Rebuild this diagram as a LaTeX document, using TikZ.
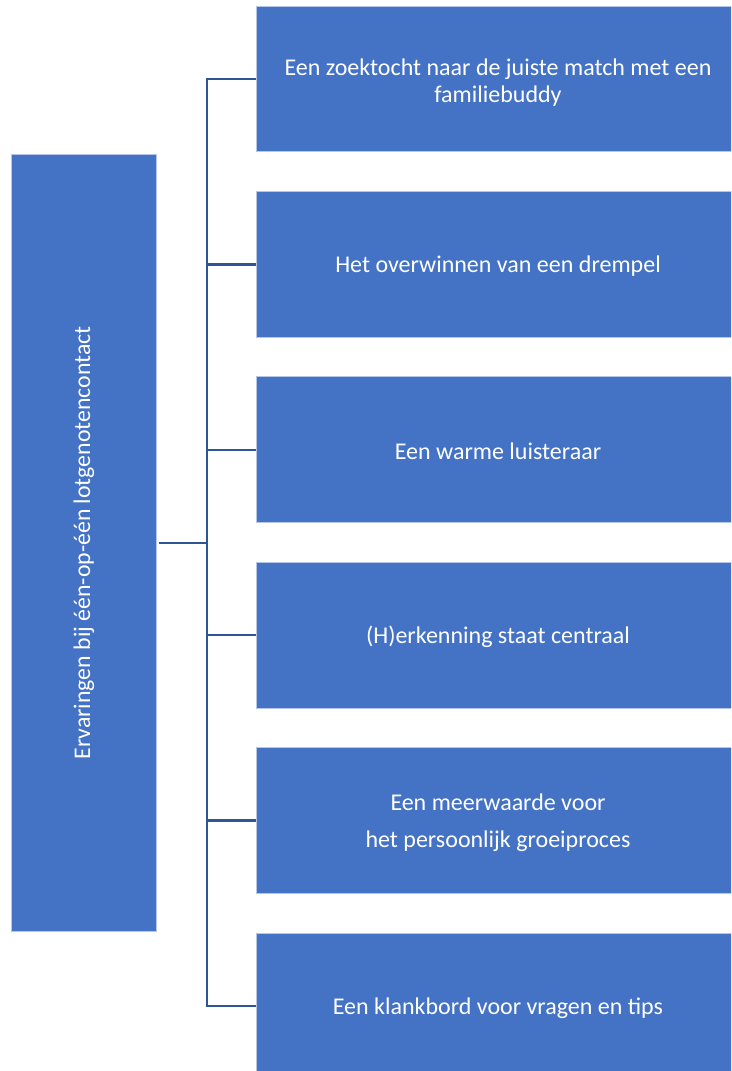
\documentclass[tikz,border=0pt]{standalone}
\usepackage{fontspec}
\setmainfont{Carlito}
\definecolor{boxblue}{HTML}{4472C4}
\definecolor{boxedge}{HTML}{B4C7E7}
\definecolor{linkblue}{HTML}{2F5597}
\begin{document}
\begin{tikzpicture}[x=1pt,y=-1pt,
  bluebox/.style={fill=boxblue,draw=boxedge,line width=0.8pt},
  boxtext/.style={text=white,font=\fontsize{24}{27}\selectfont,align=center,inner sep=0pt},
  link/.style={draw=linkblue,line width=2.4pt}]
\useasboundingbox (0,0) rectangle (731,1071);
\begin{scope}
\clip (0,0) rectangle (731,1071);
% left box
\draw[bluebox] (11.7,154) rectangle (156.3,931.7);
\node[boxtext,rotate=90,font=\fontsize{23.8}{28}\selectfont] (root) at (84,542.8) {Ervaringen bij één-op-één lotgenotencontact};
\coordinate (rootR) at (159,542.8);
\coordinate (trunk) at (206.7,542.8);
% right boxes
\foreach \i/\t in {1/6,2/191.4,3/376.8,4/562.2,5/747.6,6/933}{
  \draw[bluebox] (256.7,\t) rectangle (740,\t+145.7);
  \coordinate (b\i) at (256,\t+72.9);
  \coordinate (c\i) at (498,\t+74.9);
}
\node[boxtext] (t1) at ([yshift=-2pt]c1) {Een zoektocht naar de juiste match met een\\familiebuddy};
\node[boxtext] (t2) at (c2) {Het overwinnen van een drempel};
\node[boxtext] (t3) at (c3) {Een warme luisteraar};
\node[boxtext] (t4) at (c4) {(H)erkenning staat centraal};
\node[boxtext,font=\fontsize{24}{37}\selectfont] (t5) at (c5) {Een meerwaarde voor\\het persoonlijk groeiproces};
\node[boxtext] (t6) at (c6) {Een klankbord voor vragen en tips};
% connectors
\draw[link] (rootR) -- (trunk);
\draw[link,line join=miter] (b1) -| (trunk) |- (b6);
\foreach \i in {2,3,4,5}{
  \draw[link] (trunk |- b\i) -- (b\i);
}
\end{scope}
\end{tikzpicture}
\end{document}
